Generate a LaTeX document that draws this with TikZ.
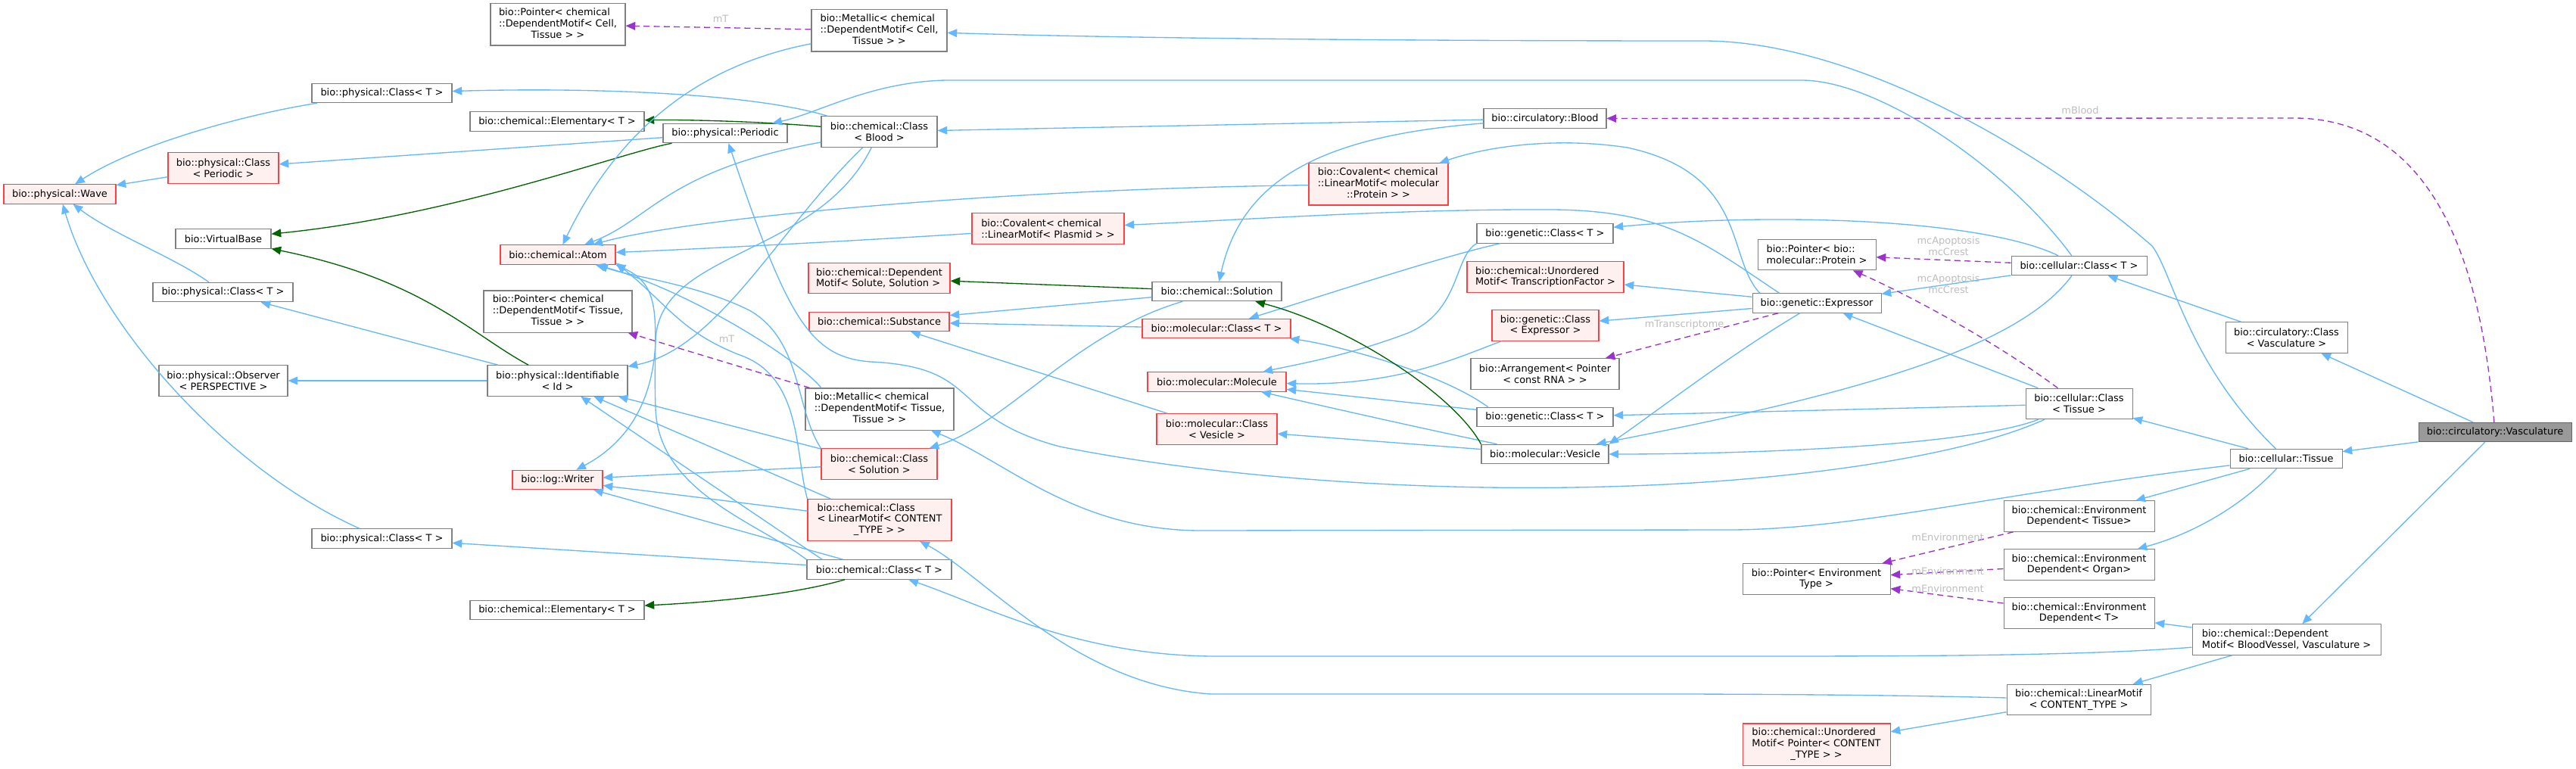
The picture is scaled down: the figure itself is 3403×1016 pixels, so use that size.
\documentclass[tikz,border=0pt]{standalone}
\usepackage{fontspec}
\setmainfont{DejaVu Sans}
\usetikzlibrary{arrows.meta}

\definecolor{edgeblue}{HTML}{63B8FF}
\definecolor{edgegreen}{HTML}{006400}
\definecolor{edgepurple}{HTML}{9A32CD}
\definecolor{boxgray}{HTML}{808080}
\definecolor{truncred}{HTML}{FF4040}
\definecolor{truncfill}{HTML}{FFF0F0}
\definecolor{focusgray}{HTML}{999999}
\definecolor{focusedge}{HTML}{666666}
\definecolor{labelgray}{HTML}{BEBEBE}

\newcommand{\dv}{\fontsize{9.7}{11}\selectfont}
% two left lines, last line centred
\newcommand{\llc}[3]{\begin{tabular}{@{}l@{}}#1\\#2\\\multicolumn{1}{@{}c@{}}{#3}\end{tabular}}

\tikzset{
  cls/.style={draw=boxgray, fill=white, line width=0.8pt, inner sep=1pt, align=center, font=\dv},
  trunc/.style={cls, draw=truncred, fill=truncfill},
  focus/.style={cls, draw=focusedge, fill=focusgray},
  wd/.style={minimum width=#1*0.75pt},
  l1/.style={minimum height=19.1pt},
  l2/.style={minimum height=30.4pt},
  l3/.style={minimum height=41.3pt},
  inh/.style={draw=edgeblue, line width=1pt, -{Triangle[length=9.5pt,width=8pt]}},
  prot/.style={inh, draw=edgegreen},
  use/.style={inh, draw=edgepurple, dash pattern=on 6pt off 4pt},
  lbl/.style={font=\dv, text=labelgray, align=center, inner sep=0pt}
}

\begin{document}
\begin{tikzpicture}[x=0.75pt, y=-0.75pt]
    \useasboundingbox[fill=white] (0,0) rectangle (3403,1016);

    % physical
    \node[trunc, wd=148, l1] (wave) at (79,256.5) {bio::physical::Wave};
    \node[cls, wd=185, l1] (physTop) at (504.5,123) {bio::physical::Class< T >};
    \node[trunc, wd=146, l2] (physPeriodic) at (295,222) {bio::physical::Class\\< Periodic >};
    \node[cls, wd=126, l1] (virtualBase) at (295,315.5) {bio::VirtualBase};
    \node[cls, wd=185, l1] (physMid) at (294.5,386) {bio::physical::Class< T >};
    \node[cls, wd=170, l2] (observer) at (295,503) {bio::physical::Observer\\< PERSPECTIVE >};
    \node[cls, wd=185, l1] (physBot) at (504.5,711.5) {bio::physical::Class< T >};
    \node[cls, wd=230, l1] (elemBot) at (736,806) {bio::chemical::Elementary< T >};
    \node[cls, wd=178, l3] (ptrCell) at (737,32.5) {\llc{bio::Pointer< chemical}{::DependentMotif< Cell,}{Tissue > >}};
    \node[cls, wd=230, l1] (elemTop) at (736,160.5) {bio::chemical::Elementary< T >};
    \node[trunc, wd=152, l1] (atom) at (737,336.5) {bio::chemical::Atom};
    \node[cls, wd=196, l3] (ptrTissue) at (737,411.5) {\llc{bio::Pointer< chemical}{::DependentMotif< Tissue,}{Tissue > >}};
    \node[cls, wd=185, l2] (identifiable) at (736.5,503) {bio::physical::Identifiable\\< Id >};
    \node[trunc, wd=119, l1] (writer) at (736.5,634) {bio::log::Writer};
    \node[cls, wd=164, l1] (periodic) at (958,176) {bio::physical::Periodic};

    % chemical
    \node[cls, wd=179, l3] (metalCell) at (1161.5,40.5) {\llc{bio::Metallic< chemical}{::DependentMotif< Cell,}{Tissue > >}};
    \node[cls, wd=153, l2] (classBlood) at (1161.5,174) {bio::chemical::Class\\< Blood >};
    \node[trunc, wd=187, l2, align=left] (depSolute) at (1161.5,367.5) {bio::chemical::Dependent\\Motif< Solute, Solution >};
    \node[trunc, wd=185, l1] (substance) at (1161.5,425) {bio::chemical::Substance};
    \node[cls, wd=196, l3] (metalTissue) at (1162,540.5) {\llc{bio::Metallic< chemical}{::DependentMotif< Tissue,}{Tissue > >}};
    \node[trunc, wd=153, l2] (classSolution) at (1161.5,613) {bio::chemical::Class\\< Solution >};
    \node[trunc, wd=190, l3] (classLinear) at (1162,687) {\llc{bio::chemical::Class}{< LinearMotif< CONTENT}{\_TYPE > >}};
    \node[cls, wd=191, l1] (classT) at (1161.5,752.5) {bio::chemical::Class< T >};
    \node[trunc, wd=201, l2, align=left] (covPlasmid) at (1384.5,302) {bio::Covalent< chemical\\::LinearMotif< Plasmid > >};
    \node[cls, wd=171, l1] (solution) at (1607.5,385) {bio::chemical::Solution};
    \node[trunc, wd=196, l1] (molClassT) at (1607,434) {bio::molecular::Class< T >};
    \node[trunc, wd=183, l1] (molecule) at (1607.5,504.5) {bio::molecular::Molecule};
    \node[trunc, wd=159, l2] (molVesicle) at (1607.5,567) {bio::molecular::Class\\< Vesicle >};
    \node[trunc, wd=184, l3] (covProtein) at (1821,243.5) {\llc{bio::Covalent< chemical}{::LinearMotif< molecular}{::Protein > >}};

    % genetic
    \node[cls, wd=162, l1] (blood) at (2041,156.5) {bio::circulatory::Blood};
    \node[cls, wd=180, l1] (genTop) at (2041,308.5) {bio::genetic::Class< T >};
    \node[trunc, wd=207, l2, align=left] (unordTF) at (2041.5,366) {bio::chemical::Unordered\\Motif< TranscriptionFactor >};
    \node[trunc, wd=141, l2] (genExpressor) at (2041.5,430) {bio::genetic::Class\\< Expressor >};
    \node[cls, wd=196, l2] (arrangement) at (2041,494) {bio::Arrangement< Pointer\\< const RNA > >};
    \node[cls, wd=180, l1] (genBot) at (2041,551) {bio::genetic::Class< T >};
    \node[cls, wd=168, l1] (vesicle) at (2041,600) {bio::molecular::Vesicle};
    \node[cls, wd=156, l2, align=left] (ptrProtein) at (2400,336.5) {bio::Pointer< bio::\\molecular::Protein >};
    \node[cls, wd=170, l1] (expressor) at (2400,400.5) {bio::genetic::Expressor};
    \node[cls, wd=195, l2] (ptrEnv) at (2399.5,765) {bio::Pointer< Environment\\Type >};
    \node[trunc, wd=195, l3] (unordPtr) at (2399.5,983.5) {\llc{bio::chemical::Unordered}{Motif< Pointer< CONTENT}{\_TYPE > >}};

    % cellular
    \node[cls, wd=179, l1] (cellClassT) at (2746.5,351) {bio::cellular::Class< T >};
    \node[cls, wd=141, l2] (cellClassTissue) at (2746.5,533.5) {bio::cellular::Class\\< Tissue >};
    \foreach \n/\t/\y in {envTissue/Tissue/682, envOrgan/Organ/746, envT/T/810}{
        \node[cls, wd=199, l2] (\n) at (2746.5,\y) {bio::chemical::Environment\\Dependent< \t >};
    }
    \node[cls, wd=190, l2] (linearMotif) at (2746,924.5) {bio::chemical::LinearMotif\\< CONTENT\_TYPE >};
    \node[cls, wd=148, l1] (tissue) at (3020,606) {bio::cellular::Tissue};
    \node[cls, wd=249, l2, align=left] (depVessel) at (3020.5,845) {bio::chemical::Dependent\\Motif< BloodVessel, Vasculature >};
    \node[cls, wd=161, l2] (circClass) at (3020.5,446) {bio::circulatory::Class\\< Vasculature >};
    \node[focus, wd=202, l1] (vasculature) at (3296,571) {bio::circulatory::Vasculature};

    % left column
    \draw[inh] (physTop) .. controls (330,150) and (180,190) .. (wave);
    \draw[inh] (physPeriodic) -- (wave);
    \draw[inh] (physMid) .. controls (230,340) and (150,310) .. (wave);
    \draw[inh] (physBot) .. controls (300,620) and (130,430) .. (wave);
    \draw[inh] (periodic) -- (physPeriodic);
    \draw[prot] (periodic) .. controls (820,202) and (600,285) .. (virtualBase);
    \draw[prot] (identifiable) .. controls (620,440) and (560,370) .. (virtualBase);
    \draw[inh] (identifiable) -- (physMid);
    \draw[inh] (identifiable) -- (observer);

    % chemical classes
    \draw[inh] (classBlood) .. controls (1000,125) and (800,115) .. (physTop);
    \draw[prot] (classBlood) .. controls (1000,160) and (900,158) .. (elemTop);
    \draw[inh] (classBlood) .. controls (880,225) and (860,290) .. (atom);
    \draw[inh] (classBlood) .. controls (1030,300) and (950,460) .. (identifiable);
    \draw[inh] (classBlood) .. controls (1080,340) and (870,330) .. (866,450) .. controls (862,560) and (800,600) .. (writer);
    \draw[inh] (classT) -- (physBot);
    \draw[prot] (classT) .. controls (1050,785) and (950,795) .. (elemBot);
    \draw[inh] (classT.north west) .. controls (1000,690) and (870,650) .. (866,540) .. controls (862,430) and (880,380) .. (atom.south east);
    \draw[inh] (classT.170) -- (identifiable);
    \draw[inh] (classT) -- (writer);
    \draw[inh] (classLinear.north west) .. controls (1050,600) and (1060,500) .. (980,470) .. controls (900,440) and (880,400) .. (atom.-8);
    \draw[inh] (classLinear) -- (identifiable);
    \draw[inh] (classLinear) -- (writer);
    \draw[inh] (classSolution.north west) .. controls (1050,540) and (1060,450) .. (990,410) .. controls (920,375) and (830,365) .. (atom.-14);
    \draw[inh] (classSolution) -- (identifiable);
    \draw[inh] (classSolution) -- (writer);

    % metallic and covalent
    \draw[inh] (metalCell) .. controls (930,85) and (820,165) .. (atom);
    \draw[use] (metalCell) -- (ptrCell);
    \node[lbl] (lblCell) at (952,25) {mT};
    \draw[inh] (metalTissue.160) .. controls (1050,470) and (900,380) .. (atom);
    \draw[use] (metalTissue) -- (ptrTissue);
    \node[lbl] (lblTissue) at (960,448) {mT};
    \draw[inh] (covProtein) .. controls (1300,250) and (900,290) .. (atom);
    \draw[inh] (covPlasmid) .. controls (1100,320) and (900,330) .. (atom);

    % solution, molecules
    \draw[prot] (solution) -- (depSolute);
    \draw[inh] (solution) -- (substance);
    \draw[inh] (molClassT) -- (substance);
    \draw[inh] (molVesicle) -- (substance);
    \draw[inh] (solution) .. controls (1420,440) and (1330,560) .. (classSolution);
    \draw[inh] (blood) -- (classBlood);
    \draw[inh] (blood) .. controls (1740,180) and (1640,240) .. (solution);
    \draw[inh] (genTop) .. controls (1900,340) and (1750,390) .. (molClassT);
    \draw[inh] (genTop.south west) .. controls (1920,340) and (1930,410) .. (1860,440) .. controls (1780,470) and (1720,480) .. (molecule);
    \draw[inh] (genExpressor) .. controls (1930,470) and (1850,510) .. (molecule);
    \draw[inh] (genBot.170) .. controls (1900,490) and (1760,455) .. (molClassT);
    \draw[inh] (genBot) -- (molecule);
    \draw[inh] (vesicle) -- (molVesicle);
    \draw[inh] (vesicle) .. controls (1850,560) and (1720,530) .. (molecule);
    \draw[prot] (vesicle.north west) .. controls (1920,520) and (1780,430) .. (solution);

    % expressor
    \draw[inh] (expressor.170) .. controls (2280,340) and (2310,230) .. (2150,195) .. controls (2050,180) and (1960,195) .. (covProtein);
    \draw[inh] (expressor.165) .. controls (2250,320) and (2200,278) .. (2050,277) .. controls (1850,276) and (1650,290) .. (covPlasmid);
    \draw[inh] (expressor) -- (unordTF);
    \draw[inh] (expressor) -- (genExpressor);
    \draw[use] (expressor) -- (arrangement);
    \node[lbl] (lblTrans) at (2225,429) {mTranscriptome};
    \draw[inh] (expressor) .. controls (2280,472) and (2180,550) .. (vesicle.north east);

    % cellular classes
    \draw[inh] (cellClassT) .. controls (2650,220) and (2480,106) .. (2380,106) -- (1250,106) .. controls (1150,108) and (1080,150) .. (periodic);
    \draw[inh] (cellClassT) .. controls (2620,290) and (2350,280) .. (genTop);
    \draw[inh] (cellClassT) .. controls (2660,470) and (2400,530) .. (vesicle);
    \draw[inh] (cellClassT) -- (expressor);
    \draw[use] (cellClassT) -- (ptrProtein);
    \node[lbl] (lblApoT) at (2574,325) {mcApoptosis\\mcCrest};
    \draw[use] (cellClassTissue) .. controls (2620,440) and (2500,380) .. (ptrProtein);
    \node[lbl] (lblApoTissue) at (2574,375) {mcApoptosis\\mcCrest};
    \draw[inh] (cellClassTissue) -- (expressor);
    \draw[inh] (cellClassTissue) -- (genBot);
    \draw[inh] (cellClassTissue) .. controls (2600,590) and (2300,600) .. (vesicle);
    \draw[inh] (cellClassTissue) .. controls (2600,600) and (2400,630) .. (2200,640) .. controls (1900,655) and (1600,630) .. (1400,590) .. controls (1250,550) and (1300,485) .. (1150,478) .. controls (1070,472) and (1040,420) .. (periodic);

    % tissue
    \draw[inh] (tissue) -- (cellClassTissue);
    \draw[inh] (tissue) .. controls (2890,480) and (2870,360) .. (2843,325) .. controls (2700,200) and (2450,54) .. (2250,54) .. controls (1700,54) and (1400,48) .. (metalCell);
    \draw[inh] (tissue) .. controls (2650,650) and (2450,700) .. (2284,700) -- (1584,701) .. controls (1420,700) and (1330,610) .. (metalTissue);
    \draw[inh] (tissue) -- (envTissue);
    \draw[inh] (tissue) .. controls (2950,680) and (2880,710) .. (envOrgan);

    % vasculature
    \draw[inh] (vasculature) -- (tissue);
    \draw[inh] (vasculature) -- (circClass);
    \draw[inh] (vasculature) -- (depVessel);
    \draw[use] (vasculature) .. controls (3280,380) and (3230,156) .. (3030,156) -- (blood);
    \node[lbl] (lblBlood) at (2748,146) {mBlood};
    \draw[inh] (circClass) -- (cellClassT);

    % dependent motif
    \draw[inh] (depVessel) -- (envT);
    \draw[inh] (depVessel) -- (linearMotif);
    \draw[inh] (depVessel) .. controls (2750,867) and (2500,867) .. (2300,867) -- (1600,867) .. controls (1420,865) and (1300,800) .. (classT);
    \draw[inh] (linearMotif) .. controls (2500,918) and (2300,917) .. (2200,917) -- (1600,917) .. controls (1420,905) and (1300,760) .. (classLinear);
    \draw[inh] (linearMotif) -- (unordPtr);

    \foreach \n/\y in {envTissue/710, envOrgan/755, envT/778}{
        \draw[use] (\n) -- (ptrEnv);
        \node[lbl] (lbl\n) at (2573,\y) {mEnvironment};
    }
\end{tikzpicture}
\end{document}
